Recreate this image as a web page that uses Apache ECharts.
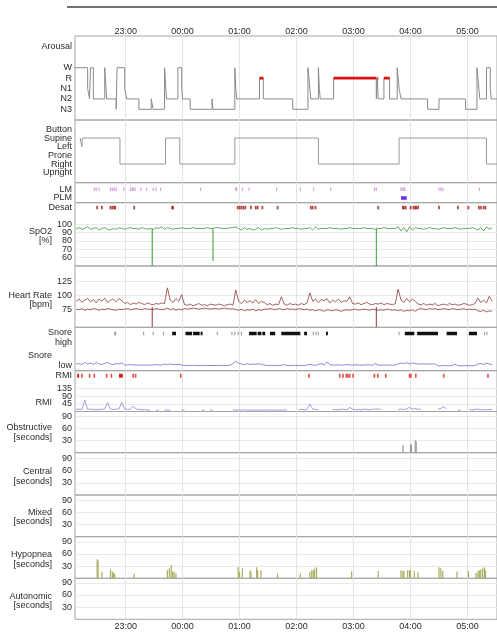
<!DOCTYPE html>
<html><head><meta charset="utf-8">
<script src="https://cdn.jsdelivr.net/npm/echarts@6/dist/echarts.min.js"></script>
<style>html,body{margin:0;padding:0;background:#fff}#c{width:497px;height:635px}</style>
</head><body><div id="c"></div>
<script>
// ================= DATA =================
const timeTicks = ["23:00","00:00","01:00","02:00","03:00","04:00","05:00"];
const stageLabels = ["N3","N2","N1","R","W"];           // bottom -> top
const positionLabels = ["Upright","Right","Prone","Left","Supine","Button"];
const spo2Ticks = [60,70,80,90,100];
const hrTicks = [75,100,125];
const rmiTicks = [45,90,135];
const eventTicks = [30,60,90];

const hypnogram = [
 ["22:06","W"],["22:20","N1"],["22:22","N2"],["22:23","W"],["22:26","N2"],["22:38","W"],["22:40","N2"],
 ["22:50","N3"],["22:51","W"],["22:59","N1"],["23:01","N2"],["23:14","N3"],["23:27","N2"],["23:29","N3"],
 ["23:41","W"],["23:43","N2"],["23:55","W"],["23:59","N1"],["00:00","N2"],["00:08","N3"],["00:31","N2"],
 ["00:32","N3"],["00:55","W"],["00:56","N1"],["00:57","N2"],["01:21","R"],["01:25","N2"],["01:56","N3"],
 ["02:12","W"],["02:14","N1"],["02:15","N2"],["02:23","W"],["02:24","N1"],["02:25","N2"],["02:39","R"],
 ["03:24","N2"],["03:25","R"],["03:26","N2"],["03:32","R"],["03:38","N2"],["03:46","W"],["03:48","N1"],
 ["03:50","N2"],["04:18","N3"],["04:30","N2"],["04:58","N3"],["05:10","W"],["05:12","N1"],["05:13","N2"],
 ["05:20","W"],["05:24","N1"],["05:25","N2"],["05:31","N2"]
];
const remSegments = [["01:21","01:25"],["02:39","03:24"],["03:25","03:26"],["03:32","03:38"]];

const position = [
 ["22:12","Supine"],["22:14","Left"],["22:14.3","Supine"],["22:54","Right"],["23:42","Supine"],["23:57","Right"],
 ["00:55","Supine"],["02:23","Right"],["03:48","Supine"],["05:20","Right"],["05:31","Right"]
];

const lmEvents = ["22:27","22:29","22:32","22:44","22:46","22:48","22:50","22:58","23:05","23:07","23:08","23:10",
 "23:16","23:22","23:29","23:32","23:37","00:19","00:56","00:57","01:03","01:10","01:39","02:04","02:18","02:36",
 "03:22","03:24","03:50","03:51","03:53","03:54","04:30","04:32","04:34","05:12.5"];
const plmEvents = [["03:50","03:56"]];
const desatEvents = ["22:30","22:35","22:44","22:46","22:48","22:49","23:09","23:49","23:50","00:58","01:00","01:02",
 "01:04","01:06","01:12","01:17","01:19","01:24","01:40","02:15","02:17","02:20","03:26","03:52","03:53","03:55",
 "04:00","04:03","04:05","04:06","04:08","04:30","04:50","05:01","05:12","05:14","05:17","05:19"];

// sampled traces: one value every 3 minutes from 22:08
const sampleStart = "22:08";
const sampleStep = 3;
const spo2 = [95,96,94,95,97,94,95,96,93,95,96,94,93,95,94,96,95,94,95,96,95,95,94,96,95,94,95,94,96,95,97,94,96,95,94,
 95,95,96,95,95,95,96,95,95,95,95,96,95,95,96,96,95,95,95,96,96,
 97,95,93,96,94,95,93,94,96,93,95,94,
 95,95,96,95,94,95,95,95,96,95,95,94,95,95,
 96,93,97,94,95,
 95,95,96,95,95,95,94,95,95,96,95,95,95,95,96,95,95,95,94,95,95,96,95,95,95,95,
 97,92,96,91,97,93,96,
 95,95,94,95,96,95,95,94,95,96,95,95,95,96,95,94,95,95,95,96,95,
 93,96,92,97,94,96];
const spo2Dips = [["23:28",95,50],["00:32",95,56],["03:24",95,50]];   // time, level before, lowest

const hrUpper = [90,94,88,92,95,89,93,87,94,90,96,88,92,94,89,95,91,
 86,88,84,87,85,88,86,84,87,85,84,86,85,87,86,
 114,92,88,95,90,102,
 84,83,85,82,84,86,83,84,82,85,84,83,85,84,82,84,85,83,
 110,90,86,92,88,91,87,93,86,90,88,
 84,86,83,85,84,98,85,83,86,84,85,83,86,84,87,
 105,90,94,88,93,91,95,87,92,89,94,88,91,90,98,
 86,85,87,84,86,88,85,84,86,85,87,84,86,85,84,86,
 112,92,88,95,89,94,90,
 85,84,86,83,85,84,86,82,84,85,83,86,84,85,83,84,86,85,83,84,86,
 96,88,92,87,99,90];
const hrLower = [76,75,77,74,76,75,77,76,74,76,75,77,76,75,74,76,75,
 76,77,75,76,77,76,75,77,76,76,75,77,76,75,76,
 78,75,77,74,76,75,
 77,76,77,78,77,76,77,78,77,76,77,77,76,77,78,77,76,77,
 75,74,76,73,75,74,76,73,75,74,76,
 76,77,76,75,77,76,75,77,76,76,75,77,76,75,76,
 74,75,73,75,74,72,75,74,73,75,74,72,74,75,74,
 75,76,74,75,76,75,74,76,75,74,75,74,76,75,74,75,
 73,75,72,74,73,75,72,
 76,77,76,75,77,76,77,75,76,77,76,75,77,76,75,76,77,75,76,75,76,
 73,72,74,71,73,72];
const hrDips = [["23:28",80,44],["03:24",80,44]];

const snoreLevel = [1.5,2,1,3,1.5,2.5,1,3,1.5,1,2,3,1.5,1,2,1.5,2.5,
 0.5,0.5,1,0.5,0.5,0.3,0.5,0.5,0.3,0.5,0.5,1,0.5,0.5,1.5,
 1,1.5,0.8,1,1.2,0.5,
 0,0,0,0.2,0,0,0,0.2,0,0,0,0,0.2,0,0,0,0.3,
 2,4.5,2,
 1.5,1,1.8,1,1.5,1.2,1.8,1,0.5,
 0,0,0.2,0,0,0.3,1,0,0,0,0.2,0,0,0,
 0.5,1.2,0.5,0.3,
 1,2,0.5,3.5,1,0.5,
 0.5,0.8,0.3,0.5,1,0.5,0.3,0.8,0.5,0.3,0.5,0.8,0.5,0.3,
 2,0.5,
 0.3,0.5,0.3,0.5,0.3,0.5,
 1.5,2.5,1.8,3,1.5,2.5,2,
 1.5,1.5,1.6,1.5,1.5,1.6,1.5,
 -0.3,-0.3,0,-0.3,-0.3,0,1.5,-0.3,-0.3,-0.3,0,-0.3,-0.3,0,
 1.5,2,1,2.5,1.5,1];
const snoreHigh = [["23:49","23:53"],["00:03","00:10"],["00:11","00:18"],["00:19","00:21"],["01:10","01:18"],
 ["01:19","01:23"],["01:24","01:27"],["01:32","01:37.5"],["01:44","02:04"],["02:08","02:11"],["02:31","02:33"],
 ["03:54","04:04"],["04:07","04:29"],["04:38","04:49"],["05:01.5","05:10"]];
const snoreHighSingle = ["22:48.5","22:49.5","23:19","23:29","23:40","00:36.5","00:52","00:55","00:58.5","01:02",
 "02:17.6","02:20.4","02:22.8","03:48","05:18","05:20.5"];

const rmiEvents = ["22:14","22:22","22:27","22:40","22:45","23:08","23:10.5","23:58","02:13","02:45.5","02:49",
 "02:52.5","02:54","02:56","02:59.5","03:22","03:25.6","03:34","03:59","04:00.4","04:05.6","04:35","05:21.6"];
const rmiEventsLong = [["22:09","22:11"],["22:53","22:57"]];
const rmi = [12,14,12,67,12,14,12,10,13,12,15,52,14,12,13,15,52,14,12,13,32,14,12,10,12,
 8,8,null,8,8,null,8,8,8,null,8,null,8,8,
 null,null,null,null,null,8,8,null,8,8,null,null,null,null,null,null,
 8,9,8,8,10,8,8,9,8,8,8,10,8,8,9,8,8,8,9,8,
 null,8,null,8,14,10,12,44,14,12,10,null,null,null,null,
 10,12,10,14,12,10,24,14,10,12,10,14,12,10,12,
 15,14,12,null,null,8,null,null,
 12,14,12,16,24,14,18,12,14,
 null,null,null,null,null,
 14,18,28,14,
 null,null,null,8,8,null,null,
 12,10,12,14,10,12,10,12,10];

// event durations [time, seconds]
const obstructive = [["03:52",19],["04:00",21],["04:01",20],["04:05",31],["04:06",28]];
const central = [];
const mixed = [];
const hypopnea = [["22:30",47],["22:31",44],["22:35",16],["22:44",22],["22:46",17],["22:47",14],["22:48.5",12],
 ["23:09",12],["23:44",20],["23:46",25],["23:48",33],["23:49.5",17],["23:51",17],["23:53",12],["00:58.5",27],
 ["01:00",16],["01:03",25],["01:11",20],["01:12",16],["01:18",27],["01:19",20],["01:22.5",20],["01:40",12],
 ["02:04",12],["02:14",16],["02:16",20],["02:17.6",20],["02:19",24],["02:21",27],["02:58",17],["03:26",18],
 ["03:50",20],["03:52",18],["03:53",18],["03:57",20],["03:59",20],["04:00",20],["04:04",18],["04:08",15],
 ["04:30",27],["04:32",25],["04:34",18],["04:49",17],["05:01",18],["05:09",13],["05:11",18],["05:12.5",20],
 ["05:14",22],["05:16",25],["05:18",27],["05:19",20]];
const autonomic = [];

// ================= BUILD =================
const H = s => { const p = s.split(':'); let v = (+p[0]) * 60 + parseFloat(p[1]) - 1320; if (v < 0) v += 1440; return v; };
const clock = m => { const t = Math.round(m + 1320) % 1440; return String(Math.floor(t / 60)).padStart(2, '0') + ':' + String(t % 60).padStart(2, '0'); };
const hourVals = timeTicks.map(H);
const t0 = H(sampleStart);
const sampled = arr => arr.map((v, i) => [t0 + i * sampleStep, v == null ? null : v]);
const segs = (list, lvl) => list.flatMap(([a, b]) => [[H(a), lvl], [H(b), lvl], [H(b), null]]);
const dips = list => list.flatMap(([t, b, m]) => [[H(t), b], [H(t), m], [H(t), null]]);
const pts = (list, lvl) => list.map(t => [H(t), lvl]);
const bars = list => list.map(([t, v]) => [H(t), v]);

const FONT = '"Liberation Sans", Arial, sans-serif';
const FS = 9;
const TXT = '#2a2a2a';

const bounds = [36, 120, 182.7, 202.7, 266, 327.3, 370.7, 411.5, 452.7, 495, 536.7, 578.3, 619.3];
const NP = bounds.length - 1;
const X_MIN = 6.67, X_MAX = 451.1;
const PX_PER_SEC = 0.405;

const grids = [], xAxes = [], yAxes = [], yMain = [];
for (let i = 0; i < NP; i++) {
  grids.push({ left: 75, right: -3, top: bounds[i], height: bounds[i + 1] - bounds[i], show: true,
    borderColor: '#a6a6a6', borderWidth: 1, backgroundColor: 'transparent' });
  const showLab = i === 0 || i === NP - 1;
  xAxes.push({ type: 'value', gridIndex: i, min: X_MIN, max: X_MAX, position: i === 0 ? 'top' : 'bottom',
    axisLine: { show: false }, axisTick: { show: false, customValues: hourVals },
    axisLabel: { show: showLab, customValues: hourVals, formatter: v => clock(v), margin: i === 0 ? 0 : 3,
      fontSize: FS, fontFamily: FONT, color: TXT },
    splitLine: { show: true, lineStyle: { color: '#e4e4e4', width: 1 } } });
}
// one main axis (scale + split lines) per panel, plus one axis per label so that no label gets auto-hidden
function addY(i, min, max, labVals, names, split) {
  yMain[i] = yAxes.length;
  yAxes.push({ type: 'value', gridIndex: i, min, max, position: 'left', axisLine: { show: false },
    axisTick: { show: false, customValues: split || [min] }, axisLabel: { show: false },
    splitLine: { show: !!split, lineStyle: { color: '#e9e9e9', width: 1 } } });
  labVals.forEach(v => yAxes.push({ type: 'value', gridIndex: i, min, max, position: 'left',
    axisLine: { show: false }, axisTick: { show: false }, splitLine: { show: false },
    axisLabel: { customValues: [v], margin: 3, fontSize: FS, fontFamily: FONT, color: TXT, lineHeight: 10,
      showMinLabel: true, showMaxLabel: true,
      formatter: () => (names && names[v] != null) ? names[v] : String(v) } }));
}
const stageNames = {}; stageLabels.forEach((s, k) => stageNames[k] = s); stageNames[6] = 'Arousal';
const posNames = {}; positionLabels.forEach((s, k) => posNames[k] = s);
addY(0, -1.03, 7.05, [0, 1, 2, 3, 4, 6], stageNames);
addY(1, -1.15, 6.08, [0, 1, 2, 3, 4, 5], posNames);
addY(2, -0.54, 1.76, [0, 1], { 0: 'PLM', 1: 'LM' });
addY(3, 50, 125.9, spo2Ticks.concat([120]), { 120: 'Desat' }, spo2Ticks);
addY(4, 43.6, 153, hrTicks, null, hrTicks);
addY(5, -5.2, 38.2, [0, 28.2], { 0: 'low', 28.2: 'Snore\nhigh' });
addY(6, 0, 238.6, rmiTicks.concat([209]), { 209: 'RMI' }, rmiTicks);
for (let i = 7; i < NP; i++) addY(i, 0, (bounds[i + 1] - bounds[i]) / PX_PER_SEC, eventTicks, null, eventTicks);

const stageIdx = {}; stageLabels.forEach((s, k) => stageIdx[s] = k);
const posIdx = {}; positionLabels.forEach((s, k) => posIdx[s] = k);

const L = (gi, data, color, width, extra) => Object.assign({ type: 'line', xAxisIndex: gi, yAxisIndex: yMain[gi], data,
  symbol: 'none', lineStyle: { color, width, cap: 'butt' }, connectNulls: false }, extra || {});
const S = (gi, data, color, size) => ({ type: 'scatter', xAxisIndex: gi, yAxisIndex: yMain[gi], data, symbol: 'rect',
  symbolSize: size, itemStyle: { color } });
const B = (gi, data, color) => ({ type: 'bar', xAxisIndex: gi, yAxisIndex: yMain[gi], data, barWidth: 1.2,
  itemStyle: { color } });

const series = [
  L(0, hypnogram.map(([t, s]) => [H(t), stageIdx[s]]), '#8a8a8a', 1, { step: 'end' }),
  L(0, segs(remSegments, stageIdx.R), '#e01010', 2.6),
  L(1, position.map(([t, s]) => [H(t), posIdx[s]]), '#9a9a9a', 1, { step: 'end' }),
  S(2, pts(lmEvents, 1), '#c88ad2', [1.2, 3.5]),
  L(2, segs(plmEvents, 0), '#6a2ee8', 3.6),
  S(3, pts(desatEvents, 120), '#a41c1c', [1.8, 3.5]),
  L(3, sampled(spo2), '#3a963a', 0.8),
  L(3, dips(spo2Dips), '#3a963a', 1),
  L(4, sampled(hrUpper), '#8e3b3b', 0.8),
  L(4, sampled(hrLower), '#8e3b3b', 0.8),
  L(4, dips(hrDips), '#8e3b3b', 1),
  L(5, sampled(snoreLevel), '#6c6cd0', 0.8),
  L(5, segs(snoreHigh, 32), '#111', 3.4),
  S(5, pts(snoreHighSingle, 32), '#777', [1, 3.4]),
  S(6, pts(rmiEvents, 209), '#e02020', [1.6, 4]),
  L(6, segs(rmiEventsLong, 209), '#e02020', 4),
  L(6, sampled(rmi), '#8888d8', 0.8),
  B(7, bars(obstructive), '#9a9a9a'),
  B(8, bars(central), '#9a9a9a'),
  B(9, bars(mixed), '#9a9a9a'),
  B(10, bars(hypopnea), '#aaac5e'),
  B(11, bars(autonomic), '#9a9a9a')
];

const panelNames = [
  ['SpO2\n[%]', 236], ['Heart Rate\n[bpm]', 300], ['Snore', 355.3], ['RMI', 402.7],
  ['Obstructive\n[seconds]', 432.7], ['Central\n[seconds]', 476.3], ['Mixed\n[seconds]', 517],
  ['Hypopnea\n[seconds]', 559.3], ['Autonomic\n[seconds]', 601.2]
];
const graphic = panelNames.map(([t, y]) => ({ type: 'text', silent: true, style: { text: t, x: 52, y,
  align: 'right', verticalAlign: 'middle', fontSize: FS, fontFamily: FONT, fill: TXT, lineHeight: 9.5 } }));
graphic.push({ type: 'line', silent: true, shape: { x1: 67, y1: 7, x2: 497, y2: 7 }, style: { stroke: '#444', lineWidth: 1.5 } });

const chart = echarts.init(document.getElementById('c'), null, { renderer: 'canvas' });
chart.setOption({ animation: false, backgroundColor: '#fff', textStyle: { fontFamily: FONT },
  grid: grids, xAxis: xAxes, yAxis: yAxes, series, graphic });
</script></body></html>
